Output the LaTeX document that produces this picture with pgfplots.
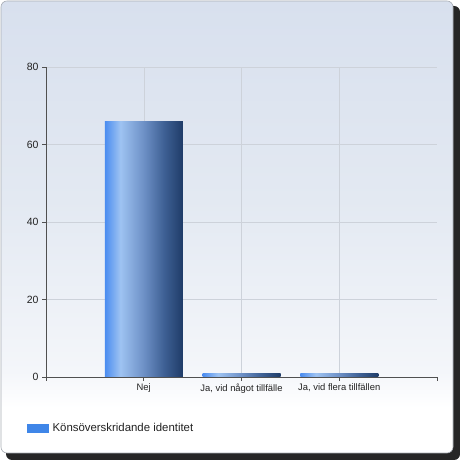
\documentclass[border=0pt]{standalone}
\usepackage{fontspec}
\setmainfont{Liberation Sans}
\usepackage{pgfplots}
\pgfplotsset{compat=1.18}

\definecolor{axisgray}{HTML}{505050}
\definecolor{gridgray}{HTML}{CDD2DA}
\definecolor{labelgray}{HTML}{222222}
\definecolor{legendblue}{HTML}{3F86E8}
\definecolor{framegray}{HTML}{A8ADB5}

\definecolor{bA}{HTML}{4A8CF0}
\definecolor{bB}{HTML}{9EC3F2}
\definecolor{bC}{HTML}{6D90C6}
\definecolor{bD}{HTML}{3E6094}
\definecolor{bE}{HTML}{1F3C68}
\pgfdeclarehorizontalshading{barshade}{100bp}{%
  color(0bp)=(bA); color(25bp)=(bA); color(35bp)=(bB); color(50bp)=(bC);
  color(63bp)=(bD); color(75bp)=(bE); color(100bp)=(bE)}

\definecolor{fA}{HTML}{FFFFFF}
\definecolor{fB}{HTML}{F4F6FA}
\definecolor{fC}{HTML}{E3E9F2}
\definecolor{fD}{HTML}{D8E0EE}
\pgfdeclareverticalshading{frameshade}{100bp}{%
  color(0bp)=(fA); color(30bp)=(fA); color(34bp)=(fB); color(53bp)=(fC);
  color(75bp)=(fD); color(100bp)=(fD)}

\begin{document}
\begin{tikzpicture}[x=1bp,y=1bp]
% canvas, shadow and frame
\fill[white] (0,0) rectangle (460,460);
\fill[black!85, rounded corners=6bp] (6,0) rectangle (460,454);
\shade[shading=frameshade, rounded corners=6bp] (1,7) rectangle (453,459);
\draw[framegray, rounded corners=6bp, line width=0.6bp] (1,7) rectangle (453,459);

\begin{axis}[
  at={(46bp,83bp)}, anchor=south west,
  scale only axis,
  width=391bp, height=310bp,
  xmin=0, xmax=4,
  ymin=0, ymax=80,
  axis lines=left,
  axis line style={-, draw=axisgray, line width=0.6bp},
  tick style={draw=axisgray, line width=0.6bp},
  tick align=outside,
  major tick length=4bp,
  xtick={1,2,3},
  xticklabels={{Nej},{Ja, vid något tillfälle},{Ja, vid flera tillfällen}},
  extra x ticks={0,4},
  extra x tick labels={},
  extra x tick style={grid=none},
  ytick={0,20,40,60,80},
  xmajorgrids, ymajorgrids,
  grid style={draw=gridgray, line width=0.5bp},
  /pgf/number format/assume math mode=true,
  x tick label style={font=\fontsize{9.4bp}{11bp}\selectfont, text=labelgray, yshift=1bp},
  y tick label style={font=\fontsize{10.5bp}{12bp}\selectfont, text=labelgray},
  legend style={at={(-0.0486,-0.1645)}, anchor=west, draw=none, fill=none,
    inner sep=0pt, font=\fontsize{11.4bp}{13bp}\selectfont, text=labelgray},
  legend cell align=left,
  clip=false,
]
\addlegendimage{legend image code/.code={\fill[legendblue] (0bp,-4bp) rectangle (21bp,4bp);
  \path (23bp,0bp);}}
\addlegendentry{Könsöverskridande identitet}
\addplot[ybar, bar width=78bp, bar shift=0pt, shading=barshade, draw=none, forget plot]
  coordinates {(1,66)};
\addplot[ybar, bar width=78bp, bar shift=0pt, shading=barshade, draw=none, forget plot]
  coordinates {(2,1)};
\addplot[ybar, bar width=78bp, bar shift=0pt, shading=barshade, draw=none, forget plot]
  coordinates {(3,1)};
\end{axis}
\end{tikzpicture}
\end{document}
